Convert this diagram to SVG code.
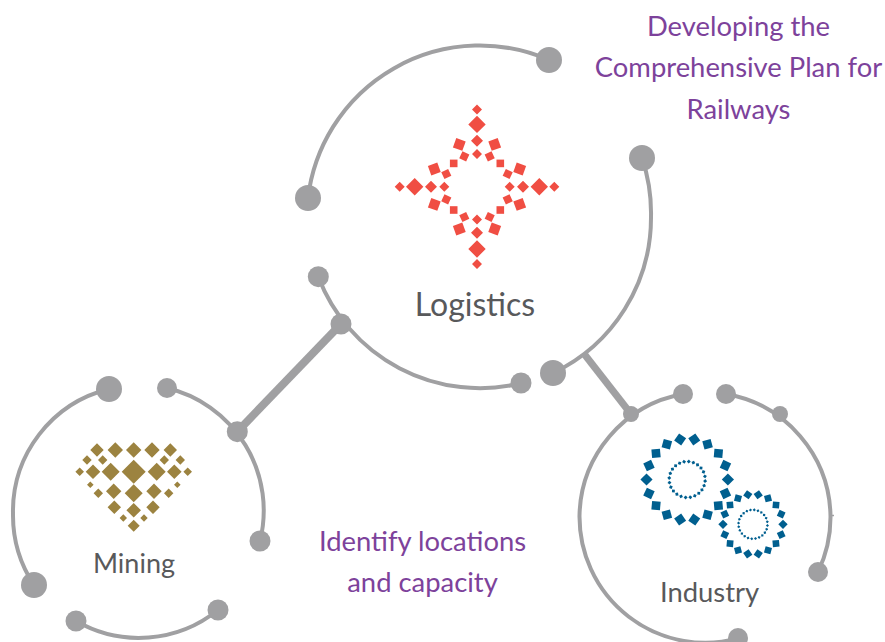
<svg xmlns="http://www.w3.org/2000/svg" width="885" height="642" viewBox="0 0 885 642">
<style>
.arc{fill:none;stroke:#a0a0a2;stroke-width:4;stroke-linecap:round}
.bar{fill:none;stroke:#a0a0a2}
.dot{fill:#a0a0a2}
.purple{font-family:"Lato","Noto Sans",sans-serif;font-size:27.4px;fill:#7d429b;text-anchor:middle}
.label{font-family:"Lato","Noto Sans",sans-serif;fill:#58595b;text-anchor:middle}
.red{fill:#f04e43}.gold{fill:#9c8340}.blue{fill:#005f8f}
</style>
<defs>
<g id="rq">
<rect x="-5" y="-5" width="10" height="10" transform="translate(-17.7 -42.3) rotate(20)"/>
<rect x="-3.8" y="-3.8" width="7.6" height="7.6" transform="translate(-12.7 -30.3) rotate(25)"/>
<rect x="-3.8" y="-3.8" width="7.6" height="7.6" transform="translate(-23.3 -23.3)"/>
<rect x="-3.8" y="-3.8" width="7.6" height="7.6" transform="translate(-30.7 -12.7) rotate(-25)"/>
<rect x="-5" y="-5" width="10" height="10" transform="translate(-42.7 -17.7) rotate(-20)"/>
</g>
<path id="ra" d="M0-82.3l5 5-5 5-5-5zM0-71l8.7 8.7-8.7 8.7-8.7-8.7zM0-52l6 6-6 6-6-6zM0-37.7l5 5-5 5-5-5z"/>
<rect id="tl" x="-4.3" y="-4.3" width="8.6" height="8.6" transform="rotate(-45)"/>
<rect id="ts" x="-3.3" y="-3.3" width="6.6" height="6.6" transform="rotate(-45)"/>
<rect id="dl" x="-1.4" y="-1.4" width="2.8" height="2.8" transform="rotate(45)"/>
<rect id="ds" x="-1.1" y="-1.1" width="2.2" height="2.2" transform="rotate(45)"/>
</defs>
<g id="connectors">
<path class="bar" stroke-width="8" d="M341 324L237.300 431.700"/>
<path class="bar" stroke-width="7" d="M585 355L631 414"/>
<path class="arc" d="M549 60A173 173 0 0 0 308 198"/>
<path class="arc" d="M642 158A172 172 0 0 1 651 217A172 172 0 0 1 553 373"/>
<path class="arc" d="M318.300 276.700A173 173 0 0 0 520.700 383.300"/>
<path class="arc" d="M109 389A126 126 0 0 0 13 514A126 126 0 0 0 34 585"/>
<path class="arc" d="M76 621A126 126 0 0 0 218 610"/>
<path class="arc" d="M167 388A126 126 0 0 1 260 541"/>
<path class="arc" d="M683 394A126 126 0 0 0 579.500 516A126 126 0 0 0 738 638.500"/>
<path class="arc" d="M726 394A126 126 0 0 1 830.500 516A126 126 0 0 1 818 572"/>
<path class="bar" stroke-width="1.500" d="M831 515.500H834"/>
</g>
<g id="logistics">
<circle class="dot" cx="549" cy="60" r="13"/><circle class="dot" cx="308" cy="198" r="13"/><circle class="dot" cx="642" cy="158" r="13"/><circle class="dot" cx="553" cy="373" r="13"/><circle class="dot" cx="521" cy="383" r="10.500"/><circle class="dot" cx="341" cy="324" r="10.500"/><circle class="dot" cx="318.300" cy="276.700" r="10.500"/>
<g class="red" transform="translate(477 186.700)">
<use href="#ra"/><use href="#ra" transform="rotate(90)"/><use href="#ra" transform="rotate(180)"/><use href="#ra" transform="rotate(270)"/>
<use href="#rq"/><use href="#rq" transform="scale(-1 1)"/><use href="#rq" transform="scale(1 -1)"/><use href="#rq" transform="scale(-1 -1)"/>
</g>
<text class="label" x="475" y="316" font-size="32">Logistics</text>
</g>
<g id="mining">
<circle class="dot" cx="109" cy="389" r="13"/><circle class="dot" cx="34" cy="585" r="13"/><circle class="dot" cx="167" cy="388" r="10"/><circle class="dot" cx="237.300" cy="431.700" r="10.500"/><circle class="dot" cx="260" cy="541" r="10.500"/><circle class="dot" cx="76" cy="621" r="10.500"/><circle class="dot" cx="218" cy="610" r="10.500"/>
<path class="gold" d="M97 443.300l6.700 6.700-6.700 6.700-6.700-6.700zM115.300 442.300l7.700 7.700-7.700 7.700-7.700-7.700zM133.700 442.300l7.700 7.700-7.700 7.700-7.700-7.700zM152 442.300l7.700 7.700-7.700 7.700-7.700-7.700zM170.300 443.300l6.700 6.700-6.700 6.700-6.700-6.700zM87 455.300l4.700 4.700-4.700 4.700-4.700-4.700zM102.700 455.300l4.700 4.700-4.700 4.700-4.700-4.700zM164.300 455.300l4.700 4.700-4.700 4.700-4.700-4.700zM180.300 455.300l4.700 4.700-4.700 4.700-4.700-4.700zM79.700 467.400l4.300 4.300-4.300 4.300-4.300-4.300zM93 464.400l7.300 7.300-7.300 7.300-7.300-7.300zM110.700 462.700l9 9-9 9-9-9zM133.700 459.700l12 12-12 12-12-12zM156.700 462.700l9 9-9 9-9-9zM174.300 464.400l7.300 7.300-7.300 7.300-7.300-7.300zM187.700 467.400l4.300 4.300-4.300 4.300-4.300-4.300zM90.300 481.400l3.300 3.300-3.300 3.300-3.300-3.300zM177.300 481.400l3.300 3.300-3.300 3.300-3.300-3.300zM98.300 488.600l4.700 4.700-4.700 4.700-4.700-4.700zM113.700 483.600l7.700 7.700-7.700 7.700-7.700-7.700zM133.700 484.300l9 9-9 9-9-9zM154 483.600l7.700 7.700-7.700 7.700-7.700-7.700zM168.700 488.600l4.700 4.700-4.700 4.700-4.700-4.700zM114.300 500.600l6.700 6.700-6.700 6.700-6.700-6.700zM133.700 503l7.300 7.300-7.300 7.300-7.300-7.300zM153 500.600l6.700 6.700-6.700 6.700-6.700-6.700zM123.300 514.300l3.700 3.700-3.700 3.700-3.700-3.700zM144 514.300l3.700 3.700-3.700 3.700-3.700-3.700zM133.700 519.700l6 6-6 6-6-6z"/>
<text class="label" x="134" y="573" font-size="27">Mining</text>
</g>
<g id="industry">
<circle class="dot" cx="683" cy="394" r="10"/><circle class="dot" cx="631" cy="414" r="8"/><circle class="dot" cx="738" cy="638" r="10"/><circle class="dot" cx="726" cy="394" r="10"/><circle class="dot" cx="780" cy="414" r="8"/><circle class="dot" cx="818" cy="572" r="10"/>
<g class="blue" transform="translate(687.200 479.500)">
<use href="#tl" transform="rotate(10) translate(0 -40.700)"/><use href="#tl" transform="rotate(30) translate(0 -40.700)"/><use href="#tl" transform="rotate(50) translate(0 -40.700)"/><use href="#tl" transform="rotate(70) translate(0 -40.700)"/><use href="#tl" transform="rotate(90) translate(0 -40.700)"/><use href="#tl" transform="rotate(110) translate(0 -40.700)"/><use href="#tl" transform="rotate(130) translate(0 -40.700)"/><use href="#tl" transform="rotate(150) translate(0 -40.700)"/><use href="#tl" transform="rotate(170) translate(0 -40.700)"/><use href="#tl" transform="rotate(190) translate(0 -40.700)"/><use href="#tl" transform="rotate(210) translate(0 -40.700)"/><use href="#tl" transform="rotate(230) translate(0 -40.700)"/><use href="#tl" transform="rotate(250) translate(0 -40.700)"/><use href="#tl" transform="rotate(270) translate(0 -40.700)"/><use href="#tl" transform="rotate(290) translate(0 -40.700)"/><use href="#tl" transform="rotate(310) translate(0 -40.700)"/><use href="#tl" transform="rotate(330) translate(0 -40.700)"/><use href="#tl" transform="rotate(350) translate(0 -40.700)"/>
<use href="#dl" transform="rotate(5) translate(0 -18)"/><use href="#dl" transform="rotate(20) translate(0 -18)"/><use href="#dl" transform="rotate(35) translate(0 -18)"/><use href="#dl" transform="rotate(50) translate(0 -18)"/><use href="#dl" transform="rotate(65) translate(0 -18)"/><use href="#dl" transform="rotate(80) translate(0 -18)"/><use href="#dl" transform="rotate(95) translate(0 -18)"/><use href="#dl" transform="rotate(110) translate(0 -18)"/><use href="#dl" transform="rotate(125) translate(0 -18)"/><use href="#dl" transform="rotate(140) translate(0 -18)"/><use href="#dl" transform="rotate(155) translate(0 -18)"/><use href="#dl" transform="rotate(170) translate(0 -18)"/><use href="#dl" transform="rotate(185) translate(0 -18)"/><use href="#dl" transform="rotate(200) translate(0 -18)"/><use href="#dl" transform="rotate(215) translate(0 -18)"/><use href="#dl" transform="rotate(230) translate(0 -18)"/><use href="#dl" transform="rotate(245) translate(0 -18)"/><use href="#dl" transform="rotate(260) translate(0 -18)"/><use href="#dl" transform="rotate(275) translate(0 -18)"/><use href="#dl" transform="rotate(290) translate(0 -18)"/><use href="#dl" transform="rotate(305) translate(0 -18)"/><use href="#dl" transform="rotate(320) translate(0 -18)"/><use href="#dl" transform="rotate(335) translate(0 -18)"/><use href="#dl" transform="rotate(350) translate(0 -18)"/>
</g>
<g class="blue" transform="translate(753 524.300)">
<use href="#ts" transform="rotate(10) translate(0 -30)"/><use href="#ts" transform="rotate(30) translate(0 -30)"/><use href="#ts" transform="rotate(50) translate(0 -30)"/><use href="#ts" transform="rotate(70) translate(0 -30)"/><use href="#ts" transform="rotate(90) translate(0 -30)"/><use href="#ts" transform="rotate(110) translate(0 -30)"/><use href="#ts" transform="rotate(130) translate(0 -30)"/><use href="#ts" transform="rotate(150) translate(0 -30)"/><use href="#ts" transform="rotate(170) translate(0 -30)"/><use href="#ts" transform="rotate(190) translate(0 -30)"/><use href="#ts" transform="rotate(210) translate(0 -30)"/><use href="#ts" transform="rotate(230) translate(0 -30)"/><use href="#ts" transform="rotate(250) translate(0 -30)"/><use href="#ts" transform="rotate(270) translate(0 -30)"/><use href="#ts" transform="rotate(290) translate(0 -30)"/><use href="#ts" transform="rotate(310) translate(0 -30)"/><use href="#ts" transform="rotate(330) translate(0 -30)"/><use href="#ts" transform="rotate(350) translate(0 -30)"/>
<use href="#ds" transform="rotate(5) translate(0 -14.500)"/><use href="#ds" transform="rotate(20) translate(0 -14.500)"/><use href="#ds" transform="rotate(35) translate(0 -14.500)"/><use href="#ds" transform="rotate(50) translate(0 -14.500)"/><use href="#ds" transform="rotate(65) translate(0 -14.500)"/><use href="#ds" transform="rotate(80) translate(0 -14.500)"/><use href="#ds" transform="rotate(95) translate(0 -14.500)"/><use href="#ds" transform="rotate(110) translate(0 -14.500)"/><use href="#ds" transform="rotate(125) translate(0 -14.500)"/><use href="#ds" transform="rotate(140) translate(0 -14.500)"/><use href="#ds" transform="rotate(155) translate(0 -14.500)"/><use href="#ds" transform="rotate(170) translate(0 -14.500)"/><use href="#ds" transform="rotate(185) translate(0 -14.500)"/><use href="#ds" transform="rotate(200) translate(0 -14.500)"/><use href="#ds" transform="rotate(215) translate(0 -14.500)"/><use href="#ds" transform="rotate(230) translate(0 -14.500)"/><use href="#ds" transform="rotate(245) translate(0 -14.500)"/><use href="#ds" transform="rotate(260) translate(0 -14.500)"/><use href="#ds" transform="rotate(275) translate(0 -14.500)"/><use href="#ds" transform="rotate(290) translate(0 -14.500)"/><use href="#ds" transform="rotate(305) translate(0 -14.500)"/><use href="#ds" transform="rotate(320) translate(0 -14.500)"/><use href="#ds" transform="rotate(335) translate(0 -14.500)"/><use href="#ds" transform="rotate(350) translate(0 -14.500)"/>
</g>
<text class="label" x="709.500" y="602" font-size="27.4">Industry</text>
</g>
<g id="captions">
<text class="purple" x="738.500" y="36">Developing the</text>
<text class="purple" x="738.500" y="77">Comprehensive Plan for</text>
<text class="purple" x="738.500" y="119">Railways</text>
<text class="purple" x="422.500" y="551">Identify locations</text>
<text class="purple" x="422.500" y="592">and capacity</text>
</g>
</svg>
